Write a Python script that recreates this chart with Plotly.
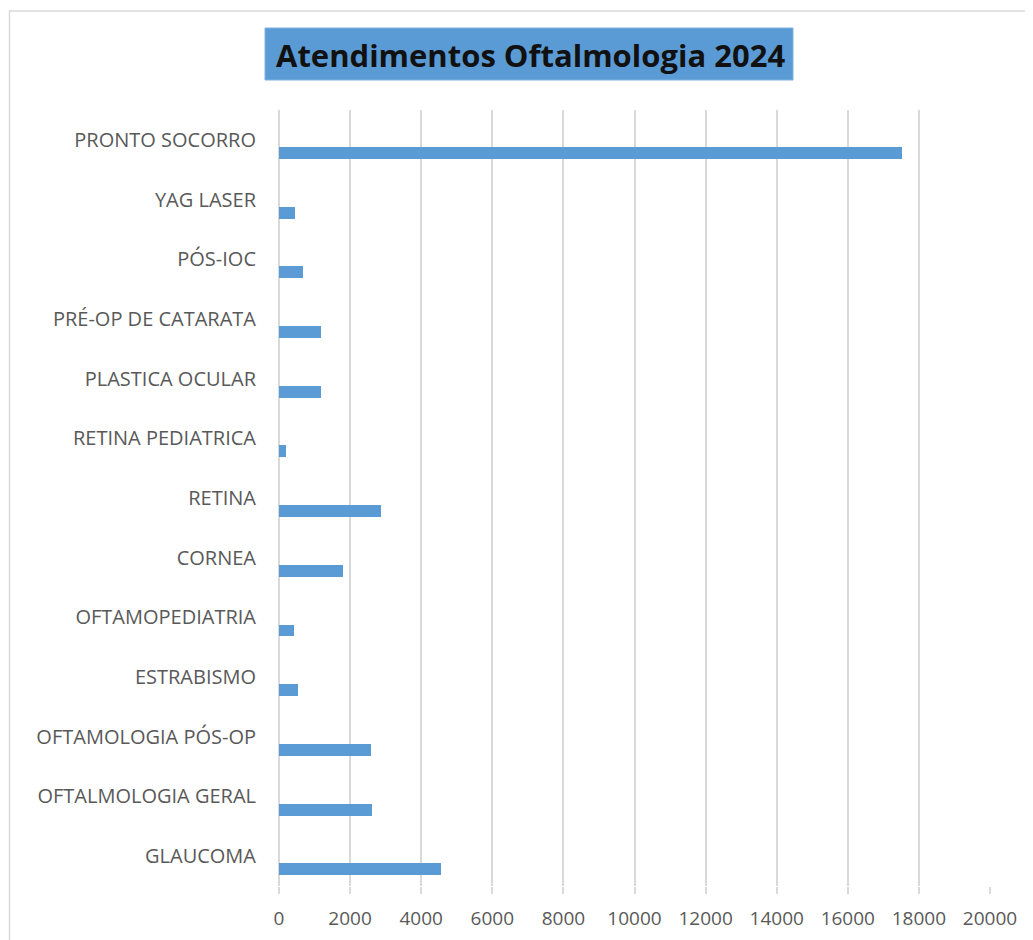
import plotly.graph_objects as go

categories = ["PRONTO SOCORRO", "YAG LASER", "PÓS-IOC", "PRÉ-OP DE CATARATA",
              "PLASTICA OCULAR", "RETINA PEDIATRICA", "RETINA", "CORNEA",
              "OFTAMOPEDIATRIA", "ESTRABISMO", "OFTAMOLOGIA PÓS-OP",
              "OFTALMOLOGIA GERAL", "GLAUCOMA"]
values = [17530, 450, 670, 1180, 1180, 200, 2870, 1790, 410, 525, 2590, 2625, 4560]
x_ticks = [0, 2000, 4000, 6000, 8000, 10000, 12000, 14000, 16000, 18000, 20000]
title_text = "Atendimentos Oftalmologia 2024"

W, H = 1033, 940
S = 8  # page body margin compensation
L, R, T, B = 279 - S, 990 - S, 110 - S, 886 - S


def px(x):
    return (x - S - L) / (R - L)


def py(y):
    return (B - (y - S)) / (B - T)


fig = go.Figure()
fig.add_trace(go.Bar(
    y=categories, x=values, orientation="h",
    marker=dict(color="#5B9BD5", line=dict(width=0)),
    width=0.2, offset=0.12, hoverinfo="x+y", showlegend=False,
))

fig.update_layout(
    width=W, height=H,
    margin=dict(l=L, r=W - R, t=T, b=H - B, pad=0),
    paper_bgcolor="white", plot_bgcolor="white",
    font=dict(family="Open Sans, Liberation Sans, sans-serif", color="#595959"),
    bargap=0,
    xaxis=dict(range=[0, 20000], tickvals=x_ticks, ticktext=[str(v) for v in x_ticks],
               showgrid=True, gridcolor="#D9D9D9", gridwidth=2,
               zeroline=True, zerolinecolor="#D9D9D9", zerolinewidth=2,
               showline=False, ticks="outside", ticklen=7, tickcolor="#D9D9D9", tickwidth=2,
               tickfont=dict(size=19, color="#595959"), ticklabelstandoff=8),
    yaxis=dict(type="category", categoryorder="array", categoryarray=categories,
               range=[len(categories) - 0.5, -0.5],
               showgrid=False, zeroline=False, showline=False, ticks="",
               tickfont=dict(size=20, color="#595959"), ticklabelstandoff=22),
    shapes=[
        dict(type="rect", xref="paper", yref="paper",
             x0=px(9.5), x1=px(1050), y0=py(960), y1=py(11),
             line=dict(color="#D9D9D9", width=1.5), fillcolor="rgba(0,0,0,0)", layer="below"),
        dict(type="rect", xref="paper", yref="paper",
             x0=px(265), x1=px(793), y0=py(80), y1=py(28),
             line=dict(color="#7FB2E0", width=1), fillcolor="#5B9BD5"),
    ],
    annotations=[
        dict(text="<b>" + title_text + "</b>", xref="paper", yref="paper",
             x=px(530), y=py(55), xanchor="center", yanchor="middle", showarrow=False,
             font=dict(size=31, color="#111111", family="Open Sans, Liberation Sans, sans-serif")),
    ],
)

fig.write_html("out.html")
